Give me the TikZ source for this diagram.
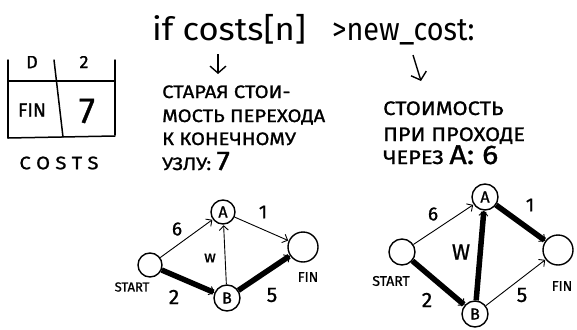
\documentclass[tikz,border=0pt]{standalone}
\usepackage{fontspec}
\setmainfont{Fira Sans}
\newfontfamily\widef[FakeStretch=1.12, FakeBold=1.2]{Fira Sans}
\newfontfamily\handf[FakeBold=1.0]{Fira Sans}
\usetikzlibrary{arrows.meta}
\begin{document}
\begin{tikzpicture}[x=1pt,y=-1pt,
  vert/.style={circle, draw, line width=1.4pt, inner sep=0pt, minimum size=#1},
  barb/.tip={Straight Barb[length=4.5pt,width=9pt,line width=0.9pt]},
  thinedge/.style={line width=0.9pt, -barb, shorten >=0.5pt},
  thickedge/.style={line width=5.5pt, -barb},
  lab/.style={font=\handf\fontsize{16}{16}\selectfont, inner sep=0pt},
  blk/.style={font=\widef\fontsize{18}{18}\selectfont, inner sep=0pt, anchor=base west},
  blkr/.style={font=\widef\fontsize{19.5}{19.5}\selectfont, inner sep=0pt, anchor=base west},
  code/.style={font=\fontsize{32}{32}\selectfont, inner sep=0pt, anchor=base west},
  tbl/.style={line width=1.5pt, line cap=round},
  ptr/.style={line width=1.4pt, -{Straight Barb[length=7pt,width=16pt,line width=1.4pt]}}
]
\useasboundingbox (0,0) rectangle (577,329);

% table
\draw[tbl] (8,60) -- (8,138);
\draw[tbl] (54,60) -- (63,137);
\draw[tbl] (115,60) -- (115,135);
\draw[tbl] (8,81) -- (115,81);
\draw[tbl] (8,138) -- (115,136);
\begin{scope}
\clip (0,56) rectangle (120,80);
\node[lab, font=\handf\fontsize{18}{18}\selectfont] (td) at (32,62) {D};
\node[lab, font=\handf\fontsize{18}{18}\selectfont] (t2) at (84,62) {2};
\end{scope}
\node[lab, font=\handf\fontsize{19}{19}\selectfont] (tfin) at (32,110) {FIN};
\node[lab, font=\handf\fontsize{36}{36}\selectfont] (t7) at (87,111) {7};
\node[lab, font=\widef\fontsize{18}{18}\selectfont] (costs) at (59,163) {C O S T S};

% code
\node[code, xscale=1.08] (c1) at (152,41) {if costs[n]};
\node[code, xscale=0.9] (c2) at (332,41) {>new\_cost:};
\coordinate (a1s) at (218,54);
\coordinate (a1e) at (218,74);
\coordinate (a2s) at (413,55);
\coordinate (a2e) at (421,81);
\draw[ptr] (a1s) -- (a1e);
\draw[ptr] (a2s) -- (a2e);

% left block
\node[blk] (l1) at (162,98) {СТАРАЯ СТОИ-};
\node[blk] (l2) at (162,122) {МОСТЬ ПЕРЕХОДА};
\node[blk] (l3) at (162,145) {К КОНЕЧНОМУ};
\node[blk] (l4) at (162,170) {УЗЛУ: {\fontsize{27}{27}\selectfont 7}};

% right block
\node[blkr] (r1) at (383,115) {СТОИМОСТЬ};
\node[blkr] (r2) at (383,141) {ПРИ ПРОХОДЕ};
\node[blkr] (r3) at (383,164) {ЧЕРЕЗ {\fontsize{27}{27}\selectfont A: 6}};

% graph 1
\node[vert=24pt] (s1) at (150,265) {};
\node[vert=24pt, font=\handf\fontsize{16}{16}\selectfont] (a1) at (223,212) {A};
\node[vert=26pt, font=\handf\fontsize{16}{16}\selectfont] (b1) at (227,298) {B};
\node[vert=30pt] (f1) at (303,247) {};
\draw[thinedge] (s1) -- (a1);
\draw[thinedge] (a1) -- (f1);
\draw[thinedge] (b1) -- (a1);
\draw[thickedge] (s1) -- (b1);
\draw[thickedge] (b1) -- (f1);
\node[lab, font=\handf\fontsize{19}{19}\selectfont] (w6a) at (177,229) {6};
\node[lab, font=\handf\fontsize{19}{19}\selectfont] (w1a) at (263,212) {1};
\node[lab] (wwa) at (210,258) {w};
\node[lab, font=\handf\fontsize{21}{21}\selectfont] (w2a) at (174,297) {2};
\node[lab, font=\handf\fontsize{21}{21}\selectfont] (w5a) at (272,295) {5};
\node[lab, font=\handf\fontsize{13}{13}\selectfont] (st1) at (132,287) {START};
\node[lab, font=\handf\fontsize{14}{14}\selectfont] (fn1) at (308,277) {FIN};

% graph 2
\node[vert=26pt] (s2) at (402,252) {};
\node[vert=26pt, font=\handf\fontsize{16}{16}\selectfont] (a2) at (485,197) {A};
\node[vert=26pt, font=\handf\fontsize{16}{16}\selectfont] (b2) at (475,314) {B};
\node[vert=30pt] (f2) at (558,250) {};
\draw[thinedge] (s2) -- (a2);
\draw[thickedge] (a2) -- (f2);
\draw[thickedge] (b2) -- (a2);
\draw[thickedge] (s2) -- (b2);
\draw[thinedge] (b2) -- (f2);
\node[lab, font=\handf\fontsize{19}{19}\selectfont] (w6b) at (433,214) {6};
\node[lab, font=\handf\fontsize{19}{19}\selectfont] (w1b) at (530,205) {1};
\node[lab, font=\handf\fontsize{22}{22}\selectfont] (wwb) at (461,252) {W};
\node[lab, font=\handf\fontsize{21}{21}\selectfont] (w2b) at (427,300) {2};
\node[lab, font=\handf\fontsize{21}{21}\selectfont] (w5b) at (522,295) {5};
\node[lab, font=\handf\fontsize{14}{14}\selectfont] (st2) at (391,281) {START};
\node[lab, font=\handf\fontsize{14}{14}\selectfont] (fn2) at (562,286) {FIN};
\end{tikzpicture}
\end{document}
